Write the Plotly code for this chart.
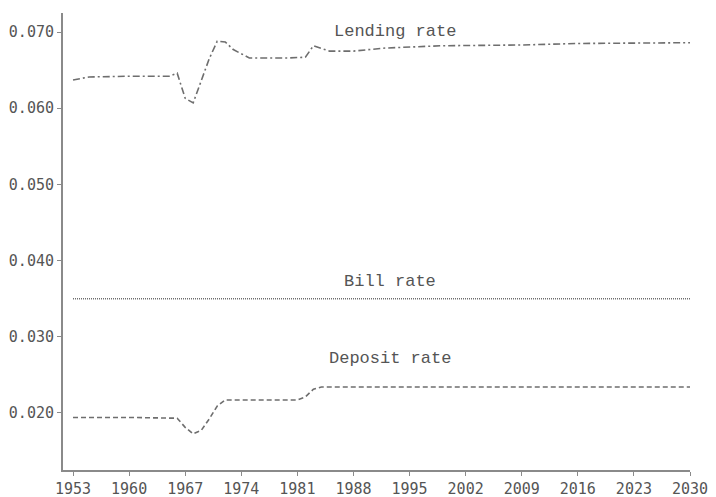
import plotly.graph_objects as go

# Lending rate
lend_years = [1953, 1955, 1960, 1965, 1966, 1967, 1968, 1969, 1970, 1971, 1972, 1973, 1975,
              1980, 1982, 1983, 1985, 1988, 1992, 1999, 2009, 2016, 2030]
lend_vals = [0.0637, 0.0641, 0.0642, 0.0642, 0.0646, 0.0613, 0.0607, 0.0635, 0.0665, 0.0688,
             0.0687, 0.0677, 0.0666, 0.0666, 0.0667, 0.0682, 0.0675, 0.0675, 0.0679, 0.0682,
             0.0683, 0.0685, 0.0686]

# Bill rate
bill_years = [1953, 2030]
bill_vals = [0.0350, 0.0350]

# Deposit rate
dep_years = [1953, 1960, 1966, 1967, 1968, 1969, 1970, 1971, 1972, 1981, 1982, 1983, 1984, 2030]
dep_vals = [0.0194, 0.0194, 0.0193, 0.0181, 0.01725, 0.0177, 0.0192, 0.0209, 0.0217,
            0.0217, 0.0221, 0.0231, 0.0234, 0.0234]

tick_years = list(range(1953, 2031, 7))
y_ticks = [0.020, 0.030, 0.040, 0.050, 0.060, 0.070]

grey = "#6e6e6e"
fig = go.Figure()
fig.add_trace(go.Scatter(x=lend_years, y=lend_vals, mode="lines",
                         line=dict(color=grey, width=1.6, dash="7px,3px,2px,3px")))
fig.add_trace(go.Scatter(x=bill_years, y=bill_vals, mode="lines",
                         line=dict(color=grey, width=1.5, dash="1px,1px")))
fig.add_trace(go.Scatter(x=dep_years, y=dep_vals, mode="lines",
                         line=dict(color=grey, width=1.6, dash="5px,3px")))

font_lbl = dict(family="Liberation Mono, Courier New, monospace", size=17, color="#555555")
for txt, xx, yy in [("Lending rate", 1993.2, 0.0701), ("Bill rate", 1992.6, 0.0372),
                    ("Deposit rate", 1992.6, 0.0272)]:
    fig.add_annotation(x=xx, y=yy, text=txt, showarrow=False, font=font_lbl)

fig.update_layout(
    width=708, height=489,
    margin=dict(l=55, r=26, t=5, b=27),
    plot_bgcolor="white", paper_bgcolor="white",
    showlegend=False,
    font=dict(family="DejaVu Sans Mono, monospace", size=15, color="#555555"),
)
fig.update_xaxes(range=[1951.75, 2030], tickvals=tick_years, showgrid=False, zeroline=False,
                 showline=True, linecolor="#8a8a8a", linewidth=2, automargin=False,
                 ticks="outside", ticklen=4, tickcolor="#8a8a8a")
fig.update_yaxes(range=[0.0125, 0.0725], tickvals=y_ticks, tickformat=".3f", showgrid=False,
                 zeroline=False, showline=True, linecolor="#8a8a8a", linewidth=2,
                 automargin=False, ticks="outside", ticklen=4, tickcolor="#8a8a8a")

fig.write_html("out.html")
